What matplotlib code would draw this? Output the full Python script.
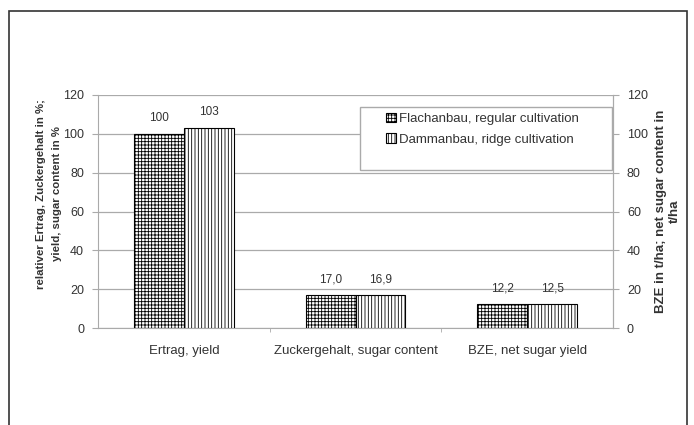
import matplotlib.pyplot as plt
import numpy as np
from matplotlib.patches import Rectangle

plt.rcParams['font.family'] = ['Liberation Sans', 'DejaVu Sans']
plt.rcParams['hatch.linewidth'] = 0.6

# Daten
categories = ['Ertrag, yield', 'Zuckergehalt, sugar content', 'BZE, net sugar yield']
flach = [100, 17.0, 12.2]
damm = [103, 16.9, 12.5]
flach_labels = ['100', '17,0', '12,2']
damm_labels = ['103', '16,9', '12,5']
series_names = ['Flachanbau, regular cultivation', 'Dammanbau, ridge cultivation']
yticks = [0, 20, 40, 60, 80, 100, 120]

txt_col = '#333333'
grid_col = '#aaaaaa'

fig = plt.figure(figsize=(6.94, 4.25), dpi=100)
ax = fig.add_axes([0.1412, 0.2282, 0.7421, 0.5483])

# Rahmen um die ganze Grafik
fig.patches.append(Rectangle((9 / 694, -0.1), 678 / 694, 1 - 11 / 425 + 0.1,
                             transform=fig.transFigure, fill=False,
                             edgecolor='#333333', linewidth=1.2))

x = np.arange(len(categories))
w = 0.29
b1 = ax.bar(x - w / 2, flach, w, color='white', edgecolor='black',
            hatch='+++++', linewidth=0.8, label=series_names[0], zorder=3)
b2 = ax.bar(x + w / 2, damm, w, color='white', edgecolor='black',
            hatch='|||||', linewidth=0.8, label=series_names[1], zorder=3)

for rect, txt in zip(b1, flach_labels):
    ax.text(rect.get_x() + rect.get_width() / 2, rect.get_height() + 5, txt,
            ha='center', va='bottom', fontsize=8.5, color=txt_col)
for rect, txt in zip(b2, damm_labels):
    ax.text(rect.get_x() + rect.get_width() / 2, rect.get_height() + 5, txt,
            ha='center', va='bottom', fontsize=8.5, color=txt_col)

ax.set_xlim(-0.5, len(categories) - 0.5)
ax.set_ylim(0, 120)
ax.set_yticks(yticks)
ax.set_xticks(x)
ax.set_xticklabels(categories, fontsize=9.5, color=txt_col)
ax.tick_params(axis='x', length=0, pad=12)
ax.set_xticks([0.5, 1.5], minor=True)
ax.tick_params(axis='x', which='minor', length=3, color=grid_col, direction='out')
ax.tick_params(axis='y', labelsize=9, colors=txt_col, length=4, color=grid_col, pad=6)
ax.grid(axis='y', color=grid_col, linewidth=0.9, zorder=0)
ax.spines['top'].set_visible(False)
for s in ['left', 'right', 'bottom']:
    ax.spines[s].set_color(grid_col)

ax.set_ylabel('relativer Ertrag, Zuckergehalt in %;\nyield, sugar content in %',
              fontsize=8.2, fontweight='bold', color=txt_col,
              linespacing=1.75)
ax.yaxis.set_label_coords(-0.07, 0.575)

ax2 = ax.twinx()
ax2.set_ylim(0, 120)
ax2.set_yticks(yticks)
ax2.tick_params(axis='y', labelsize=9, colors=txt_col, length=4, color=grid_col, pad=6)
for s in ['top', 'left', 'bottom']:
    ax2.spines[s].set_visible(False)
ax2.spines['right'].set_color(grid_col)
ax2.set_ylabel('BZE in t/ha; net sugar content in\nt/ha', fontsize=9.5,
               fontweight='bold', color=txt_col, labelpad=5, linespacing=1.2)

# Legende: Excel-Kasten ist größer als der Inhalt
ax2.add_patch(Rectangle((0.509, 0.678), 0.489, 0.270, transform=ax2.transAxes,
                        facecolor='white', edgecolor=grid_col, linewidth=1.0,
                        zorder=4))
leg = ax2.legend([b1, b2], series_names, loc='upper left',
                 bbox_to_anchor=(0.555, 0.935), fontsize=9.5, frameon=False,
                 handlelength=0.75, handleheight=0.75, handletextpad=0.2,
                 borderpad=0.2, labelspacing=0.6, borderaxespad=0)
leg.set_zorder(5)
for t in leg.get_texts():
    t.set_color(txt_col)

fig.savefig('out.png', dpi=100)
